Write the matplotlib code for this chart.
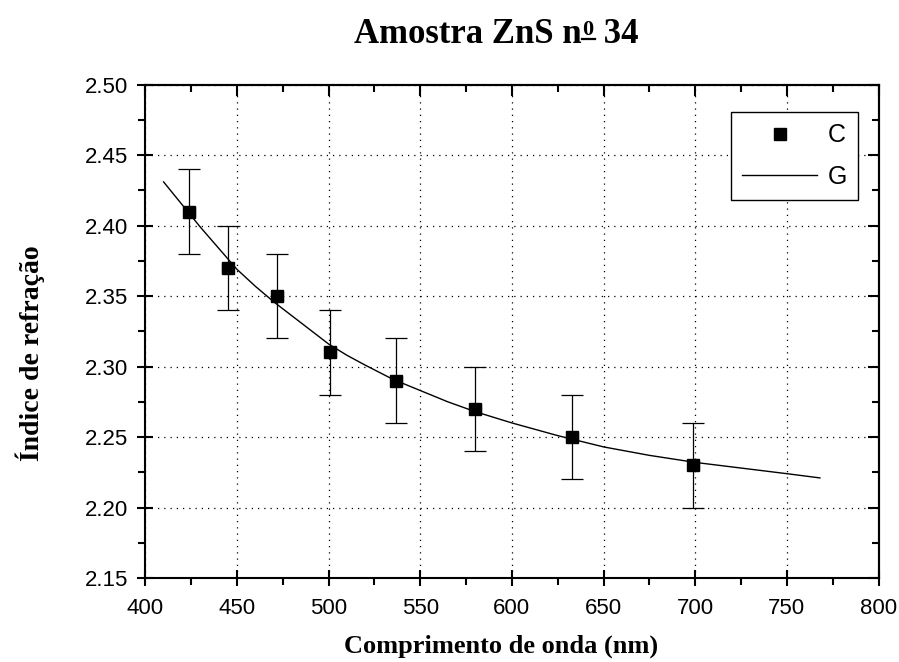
import matplotlib
matplotlib.use("Agg")
import matplotlib.pyplot as plt
from matplotlib.ticker import MultipleLocator, FormatStrFormatter
from matplotlib.lines import Line2D

# data
wavelength = [424, 445, 472, 501, 537, 580, 633, 699]
index_c = [2.41, 2.37, 2.35, 2.31, 2.29, 2.27, 2.25, 2.23]
index_err = [0.03, 0.03, 0.03, 0.03, 0.03, 0.03, 0.03, 0.03]
wl_err = [3, 3, 3, 3, 3, 3, 3, 3]

fit_wl = [410, 420, 430, 440, 450, 460, 470, 480, 490, 500, 510, 520, 535,
          550, 565, 580, 600, 625, 650, 675, 700, 725, 750, 768]
fit_n = [2.431, 2.415, 2.399, 2.384, 2.369, 2.357, 2.346, 2.336, 2.326, 2.316,
         2.308, 2.301, 2.291, 2.283, 2.275, 2.268, 2.260, 2.251, 2.243, 2.237,
         2.232, 2.228, 2.224, 2.221]

title_main = "Amostra ZnS n"
title_sup = "0"
title_end = " 34"
xlabel = "Comprimento de onda (nm)"
ylabel = "\u00cdndice de refra\u00e7\u00e3o"

sans = ["Liberation Sans", "DejaVu Sans"]
serif = ["Liberation Serif", "DejaVu Serif"]

fig = plt.figure(figsize=(8.99, 6.62), dpi=100)
ax = fig.add_axes([0.1616, 0.1269, 0.8157, 0.7452])

ax.errorbar(wavelength, index_c, yerr=index_err, fmt="none", ecolor="black",
            elinewidth=0.9, capsize=8, capthick=0.9, zorder=3)
ax.errorbar(wavelength, index_c, xerr=wl_err, fmt="none", ecolor="black",
            elinewidth=0.9, capsize=3.5, capthick=0.9, zorder=3)
ax.plot(wavelength, index_c, "s", color="black", markersize=8, label="C", zorder=4)
ax.plot(fit_wl, fit_n, "-", color="black", linewidth=1.0, label="G", zorder=2)

ax.set_xlim(400, 800)
ax.set_ylim(2.15, 2.50)
ax.xaxis.set_major_locator(MultipleLocator(50))
ax.xaxis.set_minor_locator(MultipleLocator(25))
ax.yaxis.set_major_locator(MultipleLocator(0.05))
ax.yaxis.set_minor_locator(MultipleLocator(0.025))
ax.yaxis.set_major_formatter(FormatStrFormatter("%.2f"))

ax.grid(True, which="major", color="black", linestyle=(0, (1, 4)), linewidth=0.9)

for s in ax.spines.values():
    s.set_linewidth(1.5)

ax.tick_params(which="major", direction="inout", length=11, width=1.5)
ax.tick_params(which="minor", direction="out", length=5, width=1.5)
ax.tick_params(axis="x", which="major", pad=9)
ax.tick_params(axis="y", which="major", pad=7)

# top and right axes: inward ticks without labels
secx = ax.secondary_xaxis("top")
secx.xaxis.set_major_locator(MultipleLocator(50))
secx.xaxis.set_minor_locator(MultipleLocator(25))
secx.tick_params(which="major", direction="in", length=8, width=1.5, labeltop=False)
secx.tick_params(which="minor", direction="in", length=5, width=1.5)
secx.spines["top"].set_linewidth(1.5)
secy = ax.secondary_yaxis("right")
secy.yaxis.set_major_locator(MultipleLocator(0.05))
secy.yaxis.set_minor_locator(MultipleLocator(0.025))
secy.tick_params(which="major", direction="in", length=8, width=1.5, labelright=False)
secy.tick_params(which="minor", direction="in", length=5, width=1.5)
secy.spines["right"].set_linewidth(1.5)

for lab in ax.get_xticklabels() + ax.get_yticklabels():
    lab.set_fontfamily(sans)
    lab.set_fontsize(16)

fig.text(0.557, 0.024, xlabel, fontfamily=serif, fontweight="bold", fontsize=19,
         ha="center", va="center")
fig.text(0.034, 0.467, ylabel, fontfamily=serif, fontweight="bold", fontsize=20,
         ha="center", va="center", rotation=90)

leg = ax.legend(loc="upper right", bbox_to_anchor=(858 / 899, 1 - 112 / 662),
                bbox_transform=fig.transFigure, frameon=True,
                fancybox=False, edgecolor="black", framealpha=1,
                prop={"family": sans, "size": 18},
                handlelength=3.0, handletextpad=0.4, borderpad=0.45,
                labelspacing=0.7, borderaxespad=0)
leg.get_frame().set_linewidth(1.0)

# title with underlined superscript zero
fig.canvas.draw()
renderer = fig.canvas.get_renderer()
base_y = 1 - 43 / 662
t1 = fig.text(0, base_y, title_main, fontfamily=serif, fontweight="bold",
              fontsize=25, va="baseline", ha="left")
t2 = fig.text(0, base_y, title_sup, fontfamily=serif, fontweight="bold",
              fontsize=16, va="baseline", ha="left")
t3 = fig.text(0, base_y, title_end, fontfamily=serif, fontweight="bold",
              fontsize=25, va="baseline", ha="left")
W = fig.bbox.width
H = fig.bbox.height
w1 = t1.get_window_extent(renderer).width
w2 = t2.get_window_extent(renderer).width
w3 = t3.get_window_extent(renderer).width
total = w1 + w2 + 2 + w3
x0 = 496 - total / 2
t1.set_x(x0 / W)
t2.set_x((x0 + w1 + 1) / W)
t2.set_y(base_y + 8 / H)
t3.set_x((x0 + w1 + w2 + 2) / W)
uy = base_y + 4 / H
fig.add_artist(Line2D([(x0 + w1) / W, (x0 + w1 + w2 + 2) / W], [uy, uy],
                      transform=fig.transFigure, color="black", linewidth=1.6))

fig.savefig("out.png", dpi=100)
